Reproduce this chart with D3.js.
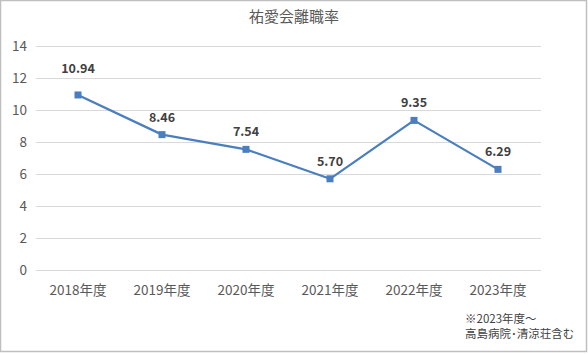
<!DOCTYPE html>
<html><head><meta charset="utf-8">
<script src="https://cdn.jsdelivr.net/npm/d3@7"></script>
<style>body{margin:0;background:#fff;}svg{display:block;}</style>
</head><body>
<svg id="c" width="588" height="354"></svg>
<script>
const categories = ["2018年度","2019年度","2020年度","2021年度","2022年度","2023年度"];
const values = [10.94, 8.46, 7.54, 5.70, 9.35, 6.29];
const yTicks = [0,2,4,6,8,10,12,14];
const title = "祐愛会離職率";
const noteLines = ["※2023年度～","高島病院･清涼荘含む"];

const svg = d3.select("#c");
const font = "'Noto Sans CJK JP','Noto Sans',sans-serif";
svg.append("rect").attr("x",0.5).attr("y",0.5).attr("width",586).attr("height",351)
  .attr("fill","#fff").attr("stroke","#bfbfbf").attr("stroke-width",1.5);

const x = d3.scaleBand().domain(categories).range([36,540]);
const y = d3.scaleLinear().domain([0,14]).range([270,46]);

svg.append("g").selectAll("line").data(yTicks).join("line")
  .attr("x1",36).attr("x2",541).attr("y1",d=>Math.round(y(d))+0.5).attr("y2",d=>Math.round(y(d))+0.5)
  .attr("stroke","#d9d9d9").attr("stroke-width",1);

const yAxis = svg.append("g").attr("transform","translate(36,0)")
  .call(d3.axisLeft(y).tickValues(yTicks).tickSize(0).tickPadding(9));
yAxis.select(".domain").remove();
yAxis.selectAll("text").attr("fill","#595959").style("font-size","13.5px").style("font-family",font);

const xAxis = svg.append("g").attr("transform","translate(0,270)")
  .call(d3.axisBottom(x).tickSize(0).tickPadding(15));
xAxis.select(".domain").remove();
xAxis.selectAll("text").attr("fill","#595959").style("font-size","13.5px").style("font-family",font);

const cx = d=>x(d)+x.bandwidth()/2;
const line = d3.line().x((d,i)=>cx(categories[i])).y(d=>y(d));
svg.append("path").datum(values).attr("d",line).attr("fill","none")
  .attr("stroke","#4a7ebf").attr("stroke-width",2.25).attr("stroke-linejoin","round");
svg.append("g").selectAll("rect").data(values).join("rect")
  .attr("x",(d,i)=>cx(categories[i])-3.5).attr("y",d=>y(d)-3.5).attr("width",7).attr("height",7)
  .attr("fill","#4a7ebf");
// the first label sits higher in the original (moved above the gridline)
svg.append("g").selectAll("text").data(values).join("text")
  .attr("x",(d,i)=>cx(categories[i])).attr("y",(d,i)=>y(d)-(i===0?22:13))
  .attr("text-anchor","middle").attr("fill","#404040").style("font-size","12.5px")
  .style("font-weight","bold").style("font-family",font).text(d=>d.toFixed(2));

svg.append("text").attr("x",294).attr("y",22).attr("text-anchor","middle")
  .attr("fill","#595959").style("font-size","15px").style("font-family",font).text(title);

svg.append("g").selectAll("text").data(noteLines).join("text")
  .attr("x",465).attr("y",(d,i)=>323+i*15).attr("fill","#404040")
  .style("font-size","11.5px").style("font-family",font).text(d=>d);
</script>
</body></html>
